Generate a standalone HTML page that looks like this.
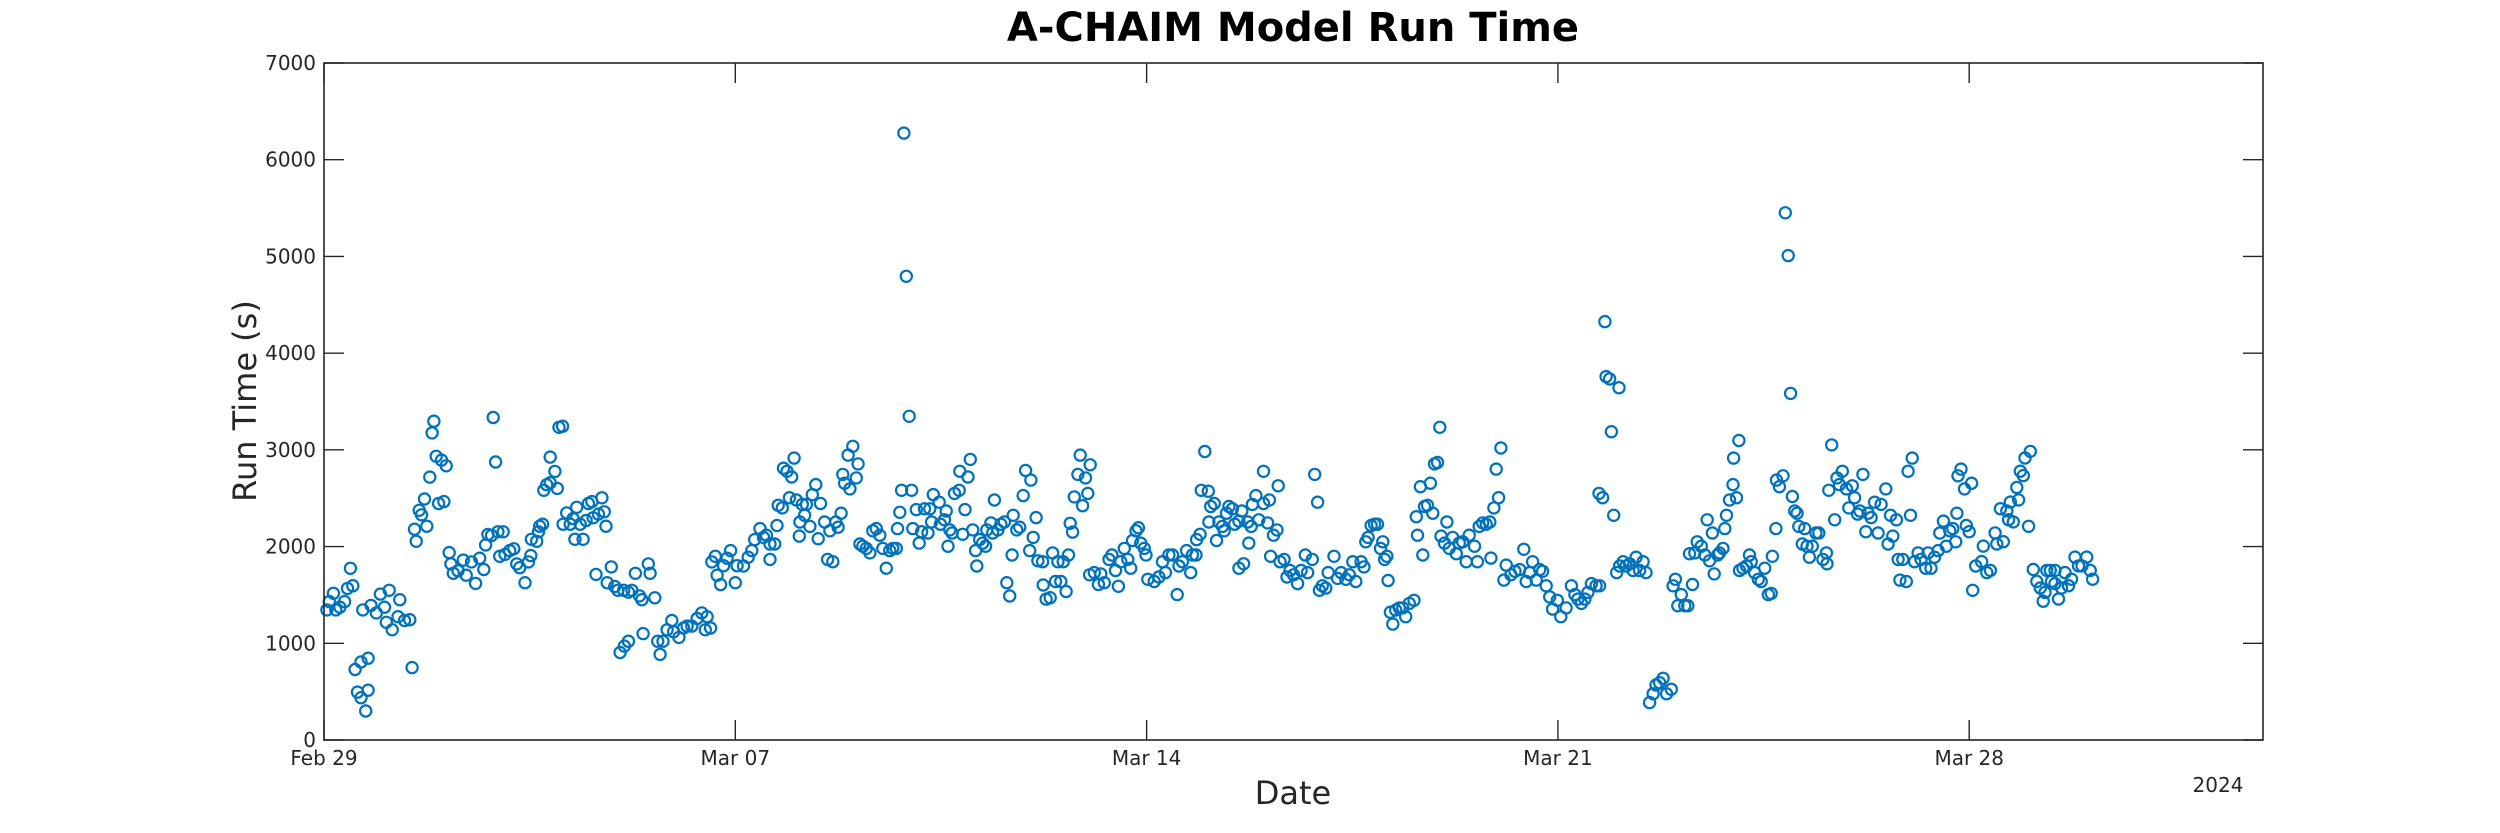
<!DOCTYPE html>
<html>
<head>
<meta charset="utf-8">
<style>
  html, body { margin: 0; padding: 0; background: #ffffff; }
  body { width: 2500px; height: 833px; overflow: hidden; }
  svg { display: block; font-family: "DejaVu Sans", "Liberation Sans", sans-serif; }
</style>
</head>
<body>
<svg id="chart" width="2500" height="833" viewBox="0 0 2500 833" xmlns="http://www.w3.org/2000/svg">
  <rect x="0" y="0" width="2500" height="833" fill="#ffffff"/>
  <text x="1293" y="41" text-anchor="middle" font-size="40" font-weight="bold" fill="#000">A-CHAIM Model Run Time</text>
  <g id="ticks"></g>
  <g id="points"></g>
  <rect x="324" y="63" width="1939" height="677" fill="none" stroke="#262626" stroke-width="1.6"/>
  <text x="1293" y="804" text-anchor="middle" font-size="32" fill="#262626">Date</text>
  <text transform="translate(256,401) rotate(-90)" text-anchor="middle" font-size="32" fill="#262626">Run Time (s)</text>
  <text x="2218" y="792" text-anchor="middle" font-size="20" fill="#262626">2024</text>
</svg>
<script>
const xTickDays = [0, 7, 14, 21, 28];
const xTickLabels = ["Feb 29", "Mar 07", "Mar 14", "Mar 21", "Mar 28"];
const yTickValues = [0, 1000, 2000, 3000, 4000, 5000, 6000, 7000];
const yTickLabels = ["0", "1000", "2000", "3000", "4000", "5000", "6000", "7000"];
const runDays = [
0.05,0.09,0.16,0.20,0.27,0.35,0.40,0.49,0.45,0.53,0.63,0.75,0.57,0.63,0.75,0.71,0.66,0.80,0.89,0.96,1.03,1.11,1.06,1.16,1.26,1.29,1.37,1.46,1.50,1.57,1.54,1.62,1.66,1.71,1.75,1.80,1.84,1.87,1.91,2.00,2.08,1.95,2.04,2.13,2.16,2.20,2.28,2.37,2.42,2.51,2.58,2.65,2.72,2.75,2.79,2.85,2.96,3.05,2.88,2.92,2.99,3.08,3.16,3.23,3.28,3.33,3.42,3.48,3.52,3.53,3.62,3.65,3.67,3.72,3.74,3.79,3.85,3.97,3.85,3.93,4.00,4.06,4.07,4.13,4.19,4.24,4.27,4.30,4.36,4.41,4.46,4.50,4.56,4.58,4.67,4.73,4.77,4.80,4.63,4.82,4.89,4.95,5.00,5.10,5.18,5.24,5.30,5.37,5.41,5.52,5.55,5.63,5.43,5.04,5.11,5.18,5.68,5.72,5.77,5.84,5.92,5.95,6.04,6.12,6.18,6.26,6.35,6.43,6.52,6.58,6.49,6.60,6.66,6.69,6.75,6.80,6.86,6.92,7.00,7.03,
7.14,7.22,7.28,7.33,7.42,7.48,7.53,7.59,7.67,7.59,7.71,7.73,7.80,7.82,7.88,7.96,8.00,7.92,8.04,8.10,8.09,8.14,8.21,8.18,8.27,8.31,8.37,8.45,8.41,8.52,8.57,8.66,8.61,8.71,8.75,8.80,8.83,8.86,8.95,8.92,9.00,9.09,9.06,9.12,9.17,9.23,9.29,9.34,9.40,9.46,9.51,9.57,9.63,9.68,9.74,9.76,9.80,9.83,10.00,9.87,9.91,9.96,10.02,10.08,10.13,10.17,10.22,10.28,10.31,10.34,10.37,10.47,10.49,10.59,10.56,10.65,10.69,10.62,10.73,10.81,10.82,10.96,11.00,10.91,10.87,11.04,11.09,11.11,11.16,11.21,11.26,11.28,11.35,11.41,11.38,11.47,11.52,11.58,11.62,11.67,11.71,11.73,11.79,11.84,11.90,11.94,12.03,12.01,12.07,12.12,12.15,12.23,12.24,12.29,12.36,12.40,12.45,12.49,12.54,12.58,12.63,12.67,12.70,12.74,12.77,12.83,12.87,12.91,12.96,13.00,13.04,13.03,13.11,13.18,13.22,13.28,13.36,13.41,13.47,13.52,13.56,13.62,13.68,13.73,13.76,13.82,13.86,13.90,13.96,13.99,14.02,
14.13,14.21,14.27,14.32,14.38,14.44,14.52,14.55,14.61,14.68,14.75,14.78,14.84,14.85,14.91,14.99,14.93,15.05,15.09,15.15,15.06,15.19,15.23,15.29,15.32,15.36,15.40,15.46,15.50,15.57,15.62,15.57,15.65,15.74,15.72,15.78,15.80,15.86,15.91,15.99,15.99,16.06,16.09,16.16,16.22,16.24,16.11,16.27,16.34,16.39,16.44,16.50,16.57,16.63,16.70,16.74,16.82,16.86,16.91,16.94,16.99,17.05,17.09,17.19,17.25,17.31,17.39,17.45,17.51,17.56,17.65,17.70,17.73,17.77,17.82,17.88,17.93,17.98,18.02,18.05,18.09,18.11,18.15,18.19,18.24,18.30,18.36,18.41,18.47,18.55,18.59,18.61,18.66,18.70,18.73,18.78,18.83,18.87,18.90,18.95,18.99,19.01,19.07,19.11,19.15,19.21,19.27,19.32,19.38,19.44,19.49,19.58,19.63,19.66,19.72,19.78,19.84,19.86,19.91,19.95,19.99,20.03,20.08,20.12,20.20,20.27,20.35,20.42,20.46,20.52,20.57,20.63,20.69,20.74,20.80,20.86,20.91,20.99,21.05,
21.14,21.23,21.29,21.34,21.40,21.46,21.51,21.57,21.65,21.71,21.70,21.76,21.80,21.82,21.88,22.04,21.91,21.95,22.00,22.05,22.11,22.16,22.22,22.28,22.33,22.39,22.45,22.50,22.56,22.62,22.67,22.73,22.79,22.85,22.93,22.96,23.00,23.04,23.10,23.16,23.21,23.29,23.24,23.33,23.37,23.44,23.50,23.54,23.58,23.63,23.66,23.72,23.75,23.81,23.84,23.87,23.92,23.98,24.04,23.99,24.08,24.09,24.15,24.21,24.26,24.29,24.35,24.41,24.46,24.52,24.58,24.63,24.65,24.71,24.72,24.77,24.83,24.87,24.92,24.96,24.99,25.03,25.07,25.10,25.16,25.20,25.24,25.28,25.33,25.39,25.44,25.51,25.57,25.58,25.61,25.66,25.71,25.75,25.79,25.84,25.91,25.95,26.01,26.05,26.10,26.14,26.19,26.24,26.28,26.33,26.39,26.45,26.50,26.58,26.62,26.66,26.70,26.76,26.79,26.82,26.87,26.93,26.96,27.00,27.03,27.07,27.13,27.18,27.26,27.30,27.35,27.41,27.47,27.50,27.56,27.61,27.67,27.72,27.77,27.79,27.81,27.86,27.92,27.95,28.00,28.04,28.06,28.11,
28.21,28.30,28.36,28.24,28.44,28.47,28.58,28.53,28.64,28.67,28.75,28.70,28.84,28.81,28.87,28.92,28.95,29.04,29.01,29.09,29.15,29.21,29.26,29.32,29.38,29.40,29.46,29.52,29.57,29.63,29.69,29.74,29.80,29.86,29.92,30.00,30.06,30.10,29.29,29.46
];
const runSeconds = [
1345,1431,1517,1345,1373,1431,1568,1595,1775,729,807,846,495,437,515,300,1345,1392,1314,1509,1373,1548,1217,1139,1275,1451,1236,1244,749,2055,2180,2375,2328,2492,2211,2718,3175,3296,2933,2894,2835,2445,2465,1938,1821,1724,1751,1860,1704,1841,1619,1880,1763,2016,2126,2114,2153,2153,3335,2874,1899,1919,1958,1977,1821,1782,1626,1841,1907,2075,2055,2153,2211,2231,2582,2640,2660,2601,2925,2777,3233,3245,2231,2348,2231,2289,2075,2406,2231,2075,2270,2445,2465,2297,2336,2504,2360,2211,1712,1626,1790,1587,1548,1548,1529,1548,1724,1490,1451,1821,1724,1470,1100,905,971,1022,1022,885,1022,1139,1236,1119,1061,1158,1178,1178,1256,1314,1275,1158,1139,1841,1899,1704,1607,1802,1880,1958,1626,1802,
1799,1890,1958,2072,2186,2095,2118,2027,2027,1867,2218,2427,2400,2810,2778,2719,2915,2505,2482,2254,2108,2436,2436,2323,2209,2537,2641,2445,2081,2254,1867,1844,2163,2254,2200,2345,2746,2655,2596,2946,3037,2855,2710,2027,2004,1981,1935,2163,2186,2118,1981,1776,1958,1981,1981,2186,2354,2582,2582,6275,4795,3347,2186,2382,2036,2154,2391,2140,2391,2254,2537,2459,2231,2368,2277,2172,2140,2004,2550,2582,2778,2719,2901,2382,2127,2172,1958,1799,2072,2036,2004,2172,2245,2482,2140,2172,2231,2254,1626,1489,1913,2323,2172,2200,2527,2787,2687,1958,2095,2300,1853,1844,1603,1457,1471,1935,1639,1844,1639,1844,1535,1913,2241,2150,2514,2746,2946,2423,2710,2550,2846,1708,1731,1608,1717,1626,1867,1913,1753,1589,1844,1981,1867,1776,2063,2163,2195,2036,1981,1913,1662,
1639,1685,1844,1731,1913,1913,1503,1799,1844,1958,1731,1913,1913,2072,2127,2983,2582,2573,2414,2445,2254,2063,2254,2209,2163,2345,2414,2391,2231,2263,2368,1776,1822,2036,2254,2209,2436,2527,2277,2778,2445,2245,2482,2118,2172,2628,1899,1844,1867,1685,1753,1708,1617,1753,1913,1731,1867,2746,2459,1548,1594,1571,1731,1899,1671,1731,1662,1708,1844,1639,1844,1790,2049,2095,2218,2231,2231,1981,2049,1867,1899,1649,1321,1198,1343,1366,1366,1275,1412,1444,2309,2118,2619,1913,2414,2427,2655,2345,2855,2869,3233,2108,2036,2254,1981,2095,1926,2036,2049,1844,2118,2004,1844,2209,2245,2231,2254,1881,2400,2801,2505,3019,1653,1808,1708,1744,1762,1972,1639,1731,1844,1653,1762,1744,1594,1480,1353,1444,1275,
1366,1594,1503,1457,1412,1457,1526,1617,1594,1594,2550,2505,4326,3757,3734,3643,3188,2323,1731,1799,1844,1799,1822,1753,1890,1753,1844,1731,387,478,569,592,638,478,524,1594,1662,1389,1503,1389,1389,1608,1926,1935,2049,2004,1913,2277,1853,2140,1717,1913,1935,1981,2186,2323,2482,2641,2505,2915,3097,1753,1776,1799,1913,1844,1731,1662,1639,1776,1503,1516,1899,2186,2687,2619,2732,5451,5009,3584,2518,2368,2345,2209,2027,2186,2004,1890,2004,2140,2140,1867,1935,1822,2582,3051,2277,2710,2641,2778,2596,2400,2628,2505,2336,2368,2746,2154,2345,2300,2459,2140,2436,2596,2027,2323,2108,2277,1867,1653,1867,1639,2778,2323,2915,1844,1935,1867,1776,1935,1776,1890,1958,2140,2263,2004,2163,2186,2049,2345,2732,2801,2596,2218,2154,2655,1548,1799,
1845,1731,1754,2005,2141,2027,2050,2392,2369,2278,2255,2460,2483,2611,2779,2734,2916,2984,2210,1763,1640,1572,1435,1754,1754,1640,1754,1458,1572,1731,1595,1663,1891,1800,1800,1891,1754,1663,1526,1617
];

const PX0 = 324, PX1 = 2263, PY0 = 740, PY1 = 63;
const X_MIN = 0, X_MAX = 33, Y_MIN = 0, Y_MAX = 7000;
function xScale(d) { return PX0 + (d - X_MIN) / (X_MAX - X_MIN) * (PX1 - PX0); }
function yScale(v) { return PY0 - (v - Y_MIN) / (Y_MAX - Y_MIN) * (PY0 - PY1); }
const NS = "http://www.w3.org/2000/svg";
const ticks = document.getElementById("ticks");
const pts = document.getElementById("points");
const TL = 20;

xTickDays.forEach((d, i) => {
  const x = xScale(d);
  const t1 = document.createElementNS(NS, "line");
  
  
  t1.setAttribute("x1", x); t1.setAttribute("x2", x);
  t1.setAttribute("y1", PY0); t1.setAttribute("y2", PY0 - TL);
  t1.setAttribute("stroke", "#262626"); t1.setAttribute("stroke-width", "1.4");
  ticks.appendChild(t1);
  const t2 = document.createElementNS(NS, "line");
  
  
  t2.setAttribute("x1", x); t2.setAttribute("x2", x);
  t2.setAttribute("y1", PY1); t2.setAttribute("y2", PY1 + TL);
  t2.setAttribute("stroke", "#262626"); t2.setAttribute("stroke-width", "1.4");
  ticks.appendChild(t2);
  const lb = document.createElementNS(NS, "text");
  
  
  lb.setAttribute("x", x); lb.setAttribute("y", 765);
  lb.setAttribute("text-anchor", "middle"); lb.setAttribute("font-size", "20");
  lb.setAttribute("fill", "#262626");
  lb.textContent = xTickLabels[i];
  ticks.appendChild(lb);
});

yTickValues.forEach((v, i) => {
  const y = yScale(v);
  const t1 = document.createElementNS(NS, "line");
  
  
  t1.setAttribute("x1", PX0); t1.setAttribute("x2", PX0 + TL);
  t1.setAttribute("y1", y); t1.setAttribute("y2", y);
  t1.setAttribute("stroke", "#262626"); t1.setAttribute("stroke-width", "1.4");
  ticks.appendChild(t1);
  const t2 = document.createElementNS(NS, "line");
  
  
  t2.setAttribute("x1", PX1); t2.setAttribute("x2", PX1 - TL);
  t2.setAttribute("y1", y); t2.setAttribute("y2", y);
  t2.setAttribute("stroke", "#262626"); t2.setAttribute("stroke-width", "1.4");
  ticks.appendChild(t2);
  const lb = document.createElementNS(NS, "text");
  
  
  lb.setAttribute("x", 316); lb.setAttribute("y", y + 7);
  lb.setAttribute("text-anchor", "end"); lb.setAttribute("font-size", "20");
  lb.setAttribute("fill", "#262626");
  lb.textContent = yTickLabels[i];
  ticks.appendChild(lb);
});

runDays.forEach((d, i) => {
  const c = document.createElementNS(NS, "circle");
  
  
  c.setAttribute("cx", xScale(d).toFixed(1));
  c.setAttribute("cy", yScale(runSeconds[i]).toFixed(1));
  c.setAttribute("r", "5.6");
  c.setAttribute("fill", "none");
  c.setAttribute("stroke", "#0072BD");
  c.setAttribute("stroke-width", "2.2");
  pts.appendChild(c);
});
</script>
</body>
</html>
